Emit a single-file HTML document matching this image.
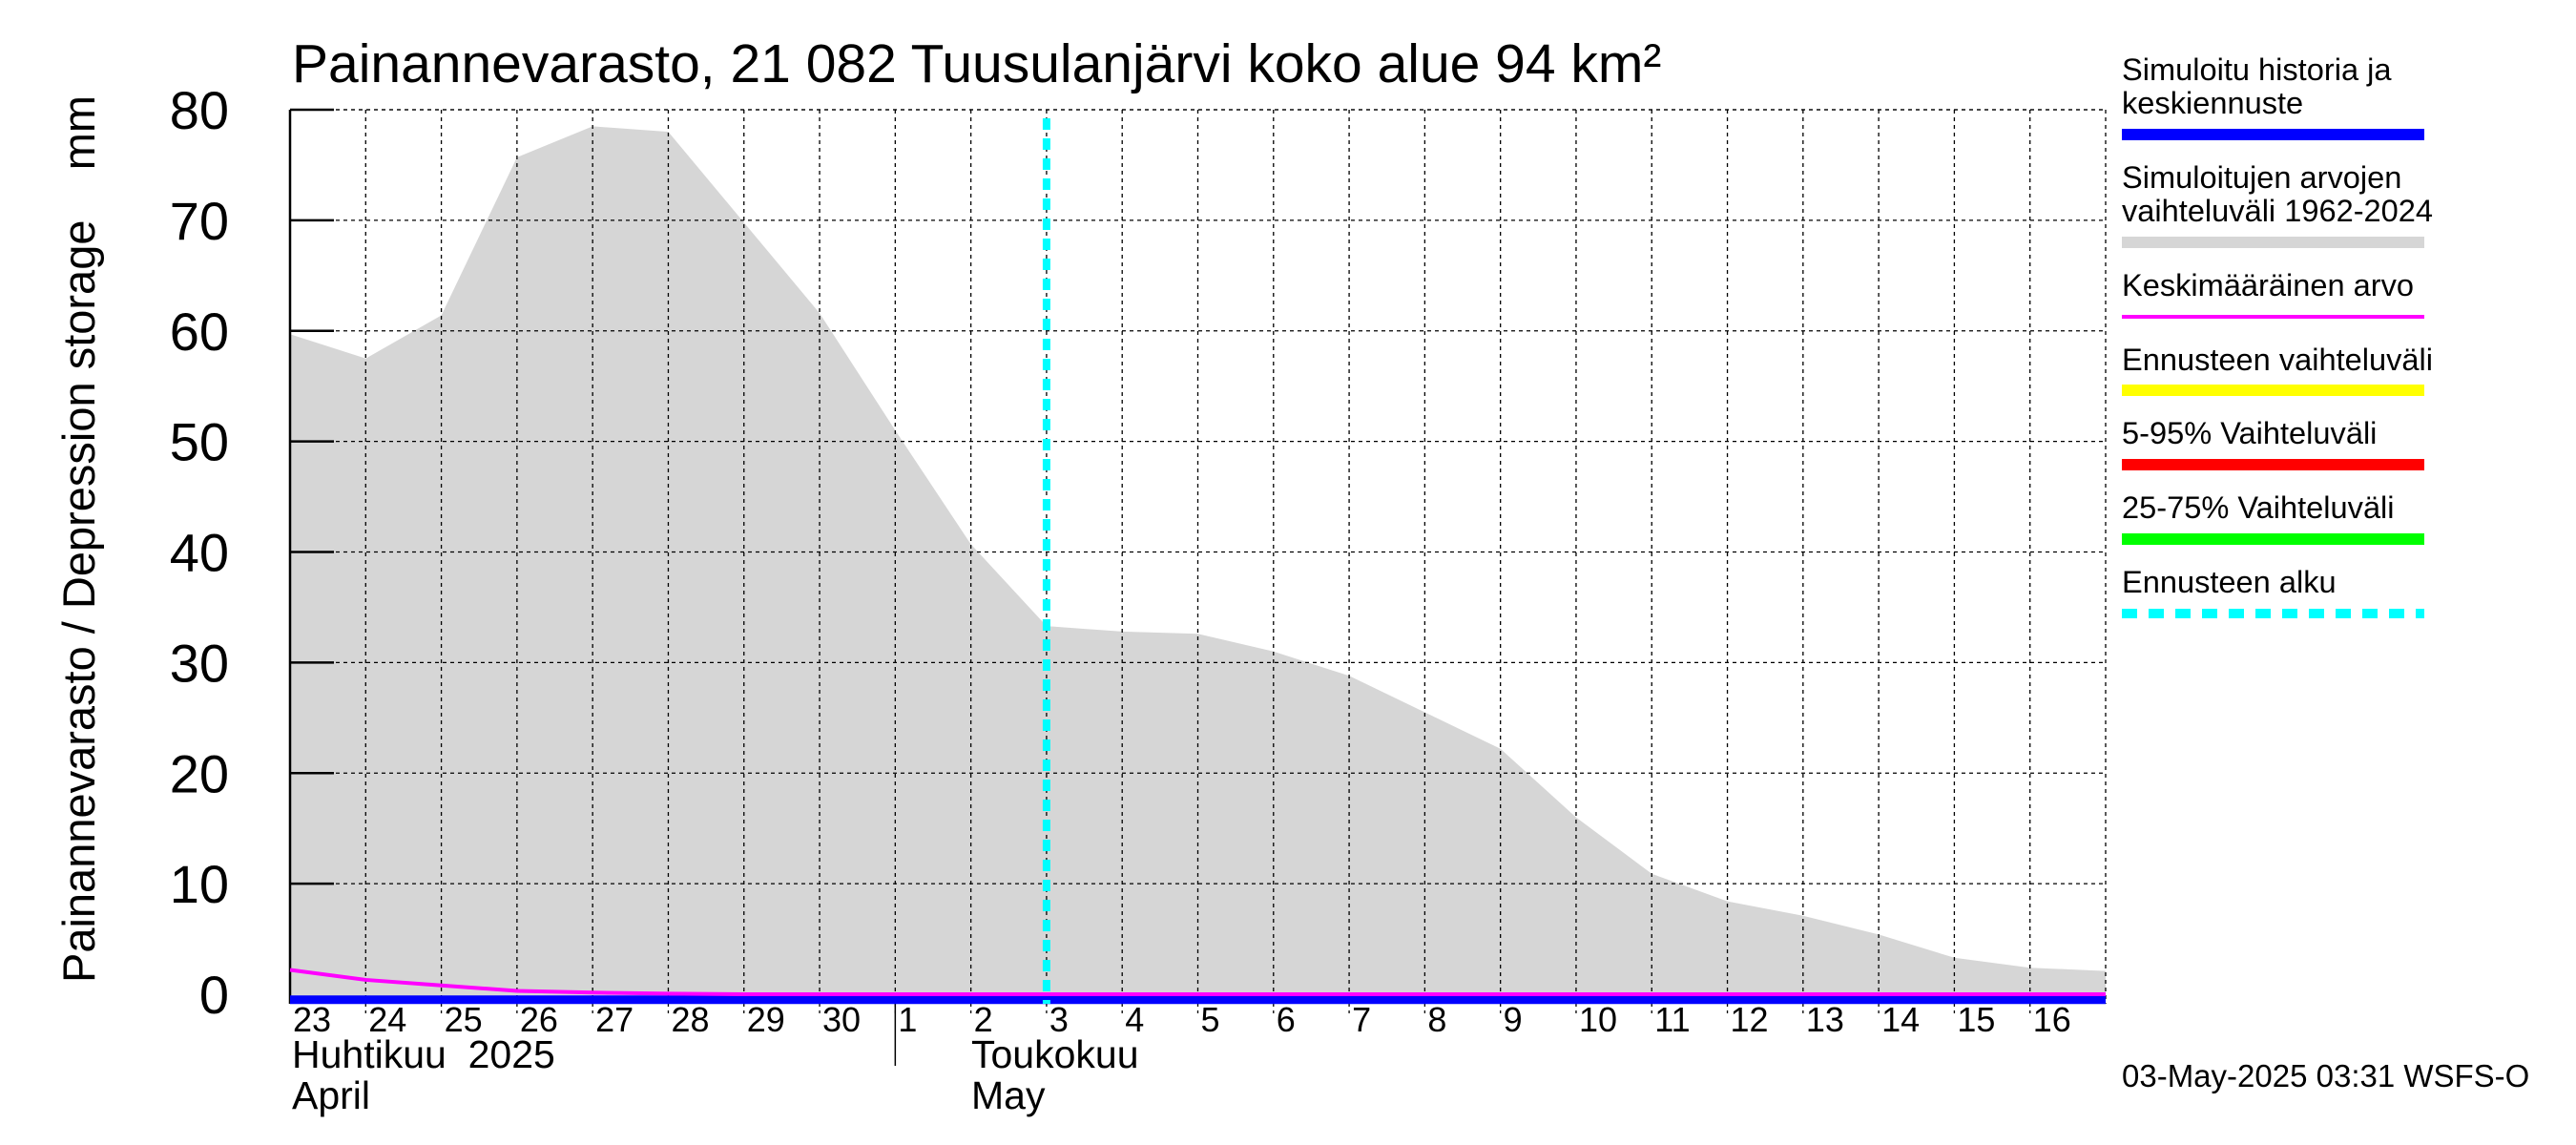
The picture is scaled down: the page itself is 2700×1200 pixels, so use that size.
<!DOCTYPE html>
<html><head><meta charset="utf-8"><style>body{margin:0;background:#fff}svg{display:block}text{font-family:"Liberation Sans",sans-serif;white-space:pre}</style></head>
<body>
<svg id="c" width="2700" height="1200" xmlns="http://www.w3.org/2000/svg"></svg>
<script>
const days=["23","24","25","26","27","28","29","30","1","2","3","4","5","6","7","8","9","10","11","12","13","14","15","16"];
const upperRange=[59.7,57.5,61.4,75.7,78.5,78,69.8,61.6,51,40.7,33.3,32.8,32.6,31,28.8,25.5,22.2,16,10.9,8.4,7.1,5.4,3.3,2.4,2.1];
const meanVals=[2.2,1.3,0.8,0.3,0.15,0.05,0,0,0,0,0,0,0,0,0,0,0,0,0,0,0,0,0,0,0];
const simVals=[-0.5,-0.5,-0.5,-0.5,-0.5,-0.5,-0.5,-0.5,-0.5,-0.5,-0.5,-0.5,-0.5,-0.5,-0.5,-0.5,-0.5,-0.5,-0.5,-0.5,-0.5,-0.5,-0.5,-0.5,-0.5];
const yTicks=[0,10,20,30,40,50,60,70,80];
const forecastDay=10;
const X0=304,X1=2207,Y0=1042,YT=115,PB=1052;
const x=d=>X0+d*(X1-X0)/24;
const y=v=>Y0-v*(Y0-YT)/80;
const svg=document.getElementById('c');const NS='http://www.w3.org/2000/svg';
function mk(t,a,txt){const e=document.createElementNS(NS,t);for(const k in a)e.setAttribute(k,a[k]);if(txt!=null)e.textContent=txt;svg.appendChild(e);return e;}
let p='M'+x(0)+','+PB;upperRange.forEach((v,i)=>p+=' L'+x(i)+','+y(v));p+=' L'+x(24)+','+PB+' Z';
let e=mk('path',{d:p,fill:'#d6d6d6'});


yTicks.forEach(v=>{if(v>0){e=mk('line',{x1:X0,x2:X1,y1:y(v),y2:y(v),stroke:'#000','stroke-width':1.3,'stroke-dasharray':'4,4'});


mk('line',{x1:X0,x2:X0+46,y1:y(v),y2:y(v),stroke:'#000','stroke-width':2.5});}
e=mk('text',{x:240,y:y(v)+20,'font-size':56,'text-anchor':'end'},v);

});
days.forEach((d,i)=>{if(i>0){e=mk('line',{x1:x(i),x2:x(i),y1:YT,y2:PB+10,stroke:'#000','stroke-width':1.3,'stroke-dasharray':'4,4'});

}
e=mk('text',{x:x(i)+3,y:1081,'font-size':36},d);

});
mk('line',{x1:X1,x2:X1,y1:YT,y2:PB,stroke:'#000','stroke-width':1.3,'stroke-dasharray':'4,4'});
mk('line',{x1:X0,x2:X1,y1:YT,y2:YT,stroke:'#000','stroke-width':1.3,'stroke-dasharray':'4,4'});
mk('line',{x1:X0,x2:X0,y1:YT,y2:PB,stroke:'#000','stroke-width':2.5});
mk('line',{x1:x(8),x2:x(8),y1:PB,y2:1117,stroke:'#000','stroke-width':1.5});
let sp='';simVals.forEach((v,i)=>sp+=(i?' L':'M')+x(i)+','+y(v));
e=mk('path',{d:sp,stroke:'#0000ff','stroke-width':9,fill:'none'});


let mp='';meanVals.forEach((v,i)=>mp+=(i?' L':'M')+x(i)+','+y(v));
e=mk('path',{d:mp,stroke:'#ff00ff','stroke-width':4,fill:'none'});


e=mk('line',{x1:x(forecastDay),x2:x(forecastDay),y1:YT+9,y2:PB,stroke:'#00ffff','stroke-width':8,'stroke-dasharray':'12,9'});


e=mk('text',{x:306,y:86,'font-size':57},'Painannevarasto, 21 082 Tuusulanjärvi koko alue 94 km²');


e=mk('text',{x:0,y:0,'font-size':47,transform:'translate(99,565) rotate(-90)','text-anchor':'middle'},'Painannevarasto / Depression storage    mm');


[['Huhtikuu  2025',306,1119],['April',306,1162],['Toukokuu',1018,1119],['May',1018,1162]].forEach(t=>{e=mk('text',{x:t[1],y:t[2],'font-size':41},t[0]);

});
const legText=[['Simuloitu historia ja',84],['keskiennuste',119],['Simuloitujen arvojen',197],['vaihteluväli 1962-2024',232],['Keskimääräinen arvo',310],['Ennusteen vaihteluväli',388],['5-95% Vaihteluväli',465],['25-75% Vaihteluväli',543],['Ennusteen alku',621]];
legText.forEach(t=>{e=mk('text',{x:2224,y:t[1],'font-size':32.6},t[0]);

});
[[141,'#0000ff',12,''],[254,'#d6d6d6',12,''],[332,'#ff00ff',4,''],[409,'#ffff00',12,''],[487,'#ff0000',12,''],[565,'#00ff00',12,''],[643,'#00ffff',10,'16,12']].forEach(l=>{e=mk('line',{x1:2224,x2:2541,y1:l[0],y2:l[0],stroke:l[1],'stroke-width':l[2],'stroke-dasharray':l[3]||'none'});

});
e=mk('text',{x:2224,y:1139,'font-size':33},'03-May-2025 03:31 WSFS-O');


</script>
</body></html>
